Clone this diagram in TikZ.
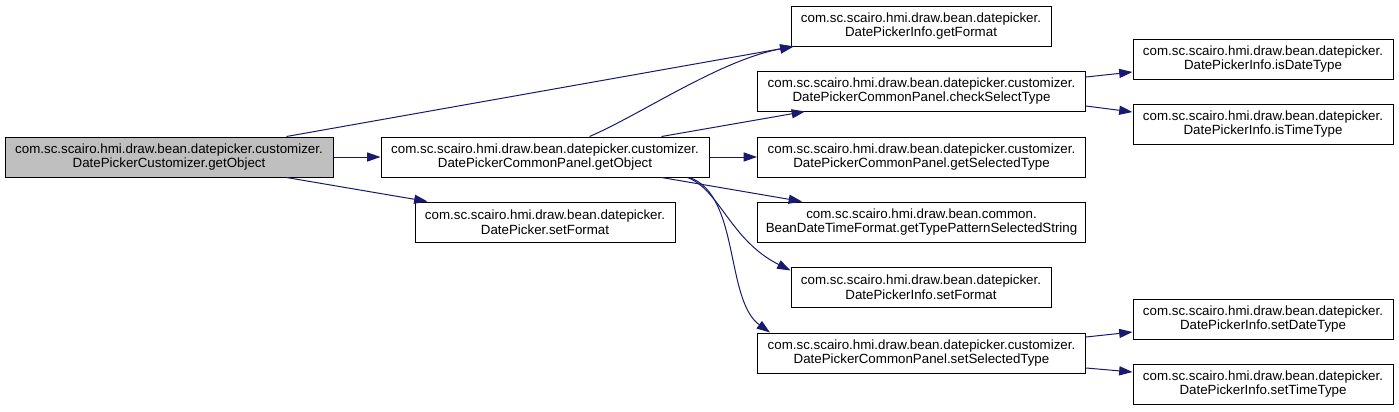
\documentclass[tikz,border=0pt]{standalone}
\usepackage{fontspec}
\setmainfont{Liberation Sans}
\usetikzlibrary{arrows.meta,calc}
\definecolor{edgeblue}{HTML}{191970}
\definecolor{boxline}{HTML}{000000}
\definecolor{grayfill}{HTML}{BFBFBF}
\begin{document}
\begin{tikzpicture}[x=0.75pt,y=-0.75pt,
  box/.style={draw=boxline, line width=0.75pt, fill=white, inner sep=0pt, minimum height=30pt,
    align=center, font=\fontsize{10}{11}\selectfont},
  wide/.style={minimum width=246pt},
  narrow/.style={minimum width=195pt},
  edge/.style={draw=edgeblue, line width=0.75pt, -{Triangle[length=10pt,width=6.8pt]}}]
\useasboundingbox (0,0) rectangle (1399,411);
\fill[white] (0,0) rectangle (1399,411);

\node[box,wide,fill=grayfill] (A) at (169,157) {com.sc.scairo.hmi.draw.bean.datepicker.customizer.\\DatePickerCustomizer.getObject};
\node[box,wide] (B) at (545,157) {com.sc.scairo.hmi.draw.bean.datepicker.customizer.\\DatePickerCommonPanel.getObject};
\node[box,narrow] (C) at (545,222) {com.sc.scairo.hmi.draw.bean.datepicker.\\DatePicker.setFormat};
\node[box,narrow] (D) at (921,26) {com.sc.scairo.hmi.draw.bean.datepicker.\\DatePickerInfo.getFormat};
\node[box,wide] (E) at (921.5,91) {com.sc.scairo.hmi.draw.bean.datepicker.customizer.\\DatePickerCommonPanel.checkSelectType};
\node[box,wide] (F) at (921.5,157) {com.sc.scairo.hmi.draw.bean.datepicker.customizer.\\DatePickerCommonPanel.getSelectedType};
\node[box,wide] (G) at (921.5,222) {com.sc.scairo.hmi.draw.bean.common.\\BeanDateTimeFormat.getTypePatternSelectedString};
\node[box,narrow] (H) at (921,287) {com.sc.scairo.hmi.draw.bean.datepicker.\\DatePickerInfo.setFormat};
\node[box,wide] (I) at (921.5,353) {com.sc.scairo.hmi.draw.bean.datepicker.customizer.\\DatePickerCommonPanel.setSelectedType};
\node[box,narrow] (J) at (1263,59) {com.sc.scairo.hmi.draw.bean.datepicker.\\DatePickerInfo.isDateType};
\node[box,narrow] (K) at (1263,124) {com.sc.scairo.hmi.draw.bean.datepicker.\\DatePickerInfo.isTimeType};
\node[box,narrow] (L) at (1263,319) {com.sc.scairo.hmi.draw.bean.datepicker.\\DatePickerInfo.setDateType};
\node[box,narrow] (M) at (1263,384) {com.sc.scairo.hmi.draw.bean.datepicker.\\DatePickerInfo.setTimeType};

\draw[edge] ($(A.north west)+(282,0)$) -- ($(D.south west)+(3,0)$);
\draw[edge] (A.east) -- (B.west);
\draw[edge] ($(A.south west)+(282,0)$) -- ($(C.north west)+(13,0)$);
\draw[edge] ($(B.north west)+(209,0)$) .. controls (640,115) and (720,60) .. ($(D.south west)+(3,0)$);
\draw[edge] ($(B.north west)+(281,0)$) -- ($(E.south west)+(48,0)$);
\draw[edge] (B.east) -- (F.west);
\draw[edge] ($(B.south west)+(281,0)$) -- ($(G.north west)+(45,0)$);
\draw[edge] ($(B.south west)+(307,0)$) .. controls (720,190) and (730,240) .. ($(H.north west)+(0,4)$);
\draw[edge] ($(B.south west)+(309,0)$) .. controls (740,195) and (725,300) .. ($(I.north west)+(13,0)$);
\draw[edge] ($(E.east)+(0,-14)$) -- ($(J.west)+(0,13)$);
\draw[edge] ($(E.east)+(0,15)$) -- ($(K.west)+(0,-12)$);
\draw[edge] ($(I.east)+(0,-16)$) -- ($(L.west)+(0,13)$);
\draw[edge] ($(I.east)+(0,15)$) -- ($(M.west)+(0,-12)$);
\end{tikzpicture}
\end{document}
